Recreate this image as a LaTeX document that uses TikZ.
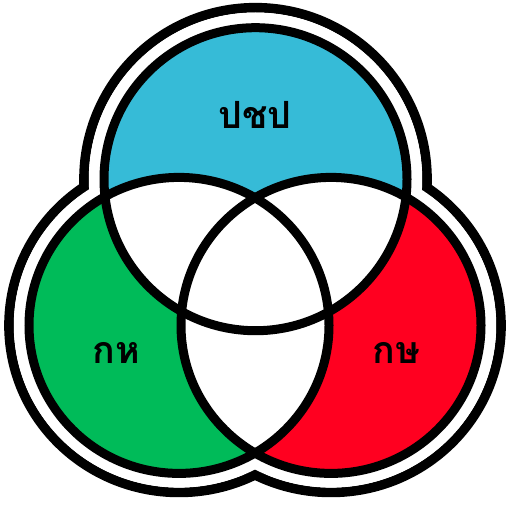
\documentclass[tikz,border=0pt]{standalone}
\usepackage{fontspec}
\usepackage{xcolor}
\newfontfamily\thaifont[Script=Thai]{Loma}
\definecolor{topset}{HTML}{36BBD7}
\definecolor{leftset}{HTML}{00BB59}
\definecolor{rightset}{HTML}{FF0020}
\tikzset{
  ring/.style={draw=black, line width=0.27cm},
  hull/.style={draw=black, line width=0.29cm},
  setlabel/.style={anchor=base, inner sep=0pt, font=\thaifont\bfseries\fontsize{32}{36}\selectfont}
}

\begin{document}
\begin{tikzpicture}[x=0.03cm, y=-0.03cm]
  \useasboundingbox (0,0) rectangle (512,507);
  % centres of the three sets
  \coordinate (top) at (255.5,179.2);
  \coordinate (left) at (179,325.4);
  \coordinate (right) at (331,325.4);

  % outer double outline
  \draw[hull] (top) circle [radius=171.5];
  \draw[hull] (left) ellipse [x radius=170, y radius=167];
  \draw[hull] (right) ellipse [x radius=170, y radius=167];
  \fill[white] (top) circle [radius=166.7];
  \fill[white] (left) ellipse [x radius=165.2, y radius=162.2];
  \fill[white] (right) ellipse [x radius=165.2, y radius=162.2];

  % set colours, overlaps left white
  \fill[topset] (top) circle [radius=151.5];
  \fill[leftset] (left) ellipse [x radius=150, y radius=148];
  \fill[rightset] (right) ellipse [x radius=150, y radius=148];
  \begin{scope}
    \clip (top) circle [radius=151.5];
    \fill[white] (left) ellipse [x radius=150, y radius=148];
    \fill[white] (right) ellipse [x radius=150, y radius=148];
  \end{scope}
  \begin{scope}
    \clip (left) ellipse [x radius=150, y radius=148];
    \fill[white] (right) ellipse [x radius=150, y radius=148];
  \end{scope}

  \draw[ring] (top) circle [radius=151.5];
  \draw[ring] (left) ellipse [x radius=150, y radius=148];
  \draw[ring] (right) ellipse [x radius=150, y radius=148];

  % labels
  \node[setlabel] (pcp) at (255,128) {ปชป};
  \node[setlabel] (kh) at (116.5,363) {กห};
  \node[setlabel] (ks) at (396.5,363) {กษ};
\end{tikzpicture}
\end{document}
